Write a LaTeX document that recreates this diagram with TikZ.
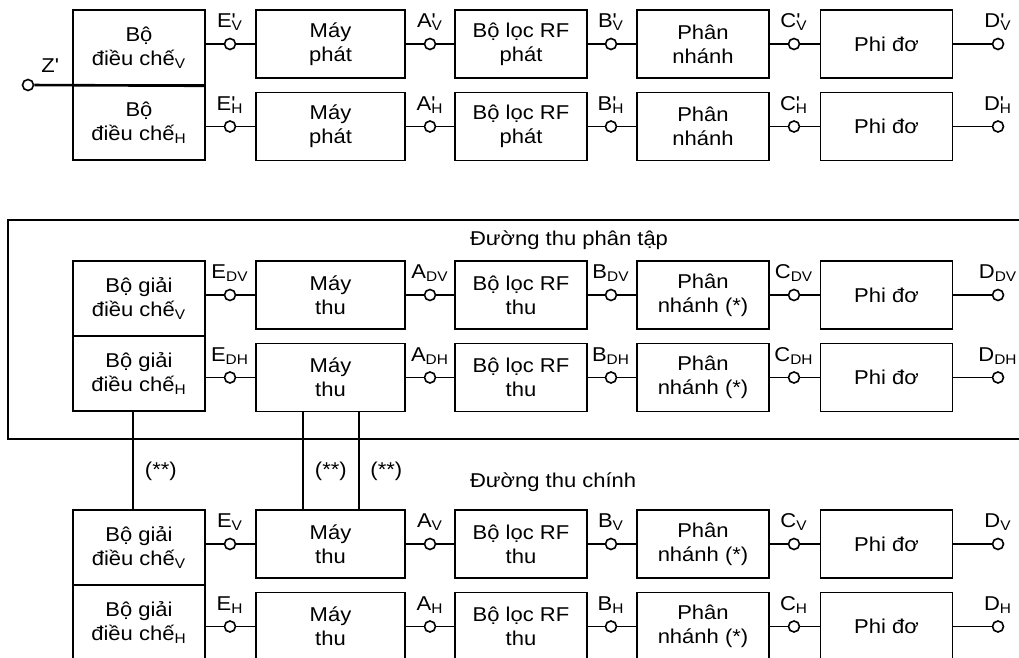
\documentclass[tikz,border=0pt]{standalone}
\usepackage{fontspec}
\setmainfont{Liberation Sans}[FakeStretch=1.1]
\usetikzlibrary{positioning}

% port labels: plain subscript, and primed with subscript
\newcommand{\lb}[2]{#1\textsubscript{#2}}
\newcommand{\lbp}[2]{#1\rlap{\textquotesingle}\textsubscript{#2}}

\begin{document}
\begin{tikzpicture}[x=0.5pt, y=-0.5pt,
  font=\fontsize{10}{12}\selectfont,
  blk/.style={draw, line width=0.8pt, minimum width=66pt, minimum height=34pt, align=center, inner sep=0pt},
  half/.style={blk, minimum height=37.5pt},
  port/.style={circle, draw, fill=white, line width=0.8pt, minimum size=5.5pt, inner sep=0pt},
  wire/.style={line width=0.8pt},
  bus/.style={line width=1.3pt}
]
\useasboundingbox (0,0) rectangle (1019,658);
\clip (0,0) rectangle (1019,658);

% three chains: transmit, diversity receive, main receive
\foreach \sn/\oy/\dm/\tx/\pn/\mk/\pf in {t/0/Bộ/phát/{}/\lbp/{}, d/251/Bộ giải/thu/~(*)/\lb/D, m/500/Bộ giải/thu/~(*)/\lb/{}}{
  \foreach \rw/\ry/\dy in {V/44/47.5, H/126.5/122.5}{
    \node[half] (\sn dm\rw) at (139,\oy+\dy) {\dm\\điều chế\textsubscript{\rw}};
    \node[blk, minimum width=74.5pt] (\sn my\rw) at (330.5,\oy+\ry) {Máy\\\tx};
    \node[blk] (\sn rf\rw) at (521,\oy+\ry) {Bộ lọc RF\\\tx};
    \node[blk] (\sn pn\rw) at (703,\oy+\ry) {Phân\\nhánh\pn};
    \node[blk] (\sn ph\rw) at (886.5,\oy+\ry) {Phi đơ};
    \node[port, label=90:\mk{E}{\pf\rw}] (\sn e\rw) at (230,\oy+\ry) {};
    \node[port, label=90:\mk{A}{\pf\rw}] (\sn a\rw) at (430,\oy+\ry) {};
    \node[port, label=90:\mk{B}{\pf\rw}] (\sn b\rw) at (611,\oy+\ry) {};
    \node[port, label=90:\mk{C}{\pf\rw}] (\sn c\rw) at (794,\oy+\ry) {};
    \node[port, label=90:\mk{D}{\pf\rw}] (\sn d\rw) at (998,\oy+\ry) {};
    \draw[wire] (\sn e\rw) -- (\sn e\rw -| \sn dm\rw.east);
    \draw[wire] (\sn e\rw) -- (\sn my\rw) -- (\sn a\rw) -- (\sn rf\rw) -- (\sn b\rw)
      -- (\sn pn\rw) -- (\sn c\rw) -- (\sn ph\rw) -- (\sn d\rw);
  }
}

% input of the modulators
\node[port, label={[label distance=1pt]40:Z\textquotesingle}] (zin) at (28,85) {};
\draw[bus] (zin) -- (tdmV.south east);

% frame of the diversity branch
\draw[wire] (1025,220) -- (8,220) -- (8,439) -- (1025,439);
\node[anchor=west] (ttld) at (463,240) {Đường thu phân tập};
\node[anchor=west] (ttlm) at (463,482) {Đường thu chính};

% links between the two receivers
\draw[bus] ([xshift=-3pt]ddmH.south) -- node[pos=0.61, right=2pt] {(**)} ([xshift=-3pt]mdmV.north);
\draw[bus] ([xshift=-13.75pt]dmyH.south) -- node[pos=0.61, right=2pt] {(**)} ([xshift=-13.75pt]mmyV.north);
\draw[wire] ([xshift=14.25pt]dmyH.south) -- node[pos=0.61, right=2pt] {(**)} ([xshift=14.25pt]mmyV.north);
\end{tikzpicture}
\end{document}
